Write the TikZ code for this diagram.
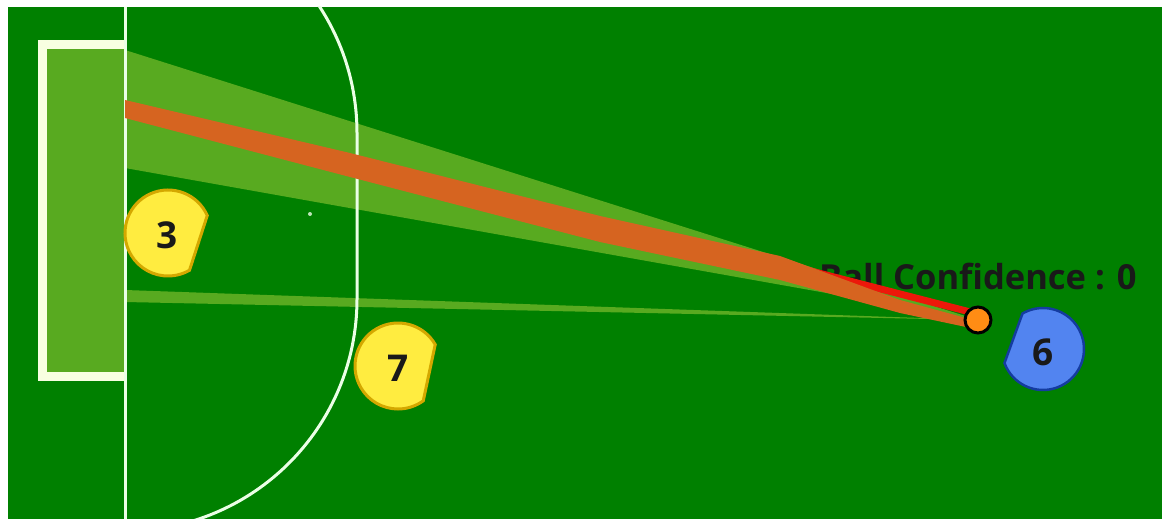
\documentclass[tikz,border=0pt]{standalone}
\usepackage{fontspec}
\setmainfont{Open Sans}

\definecolor{fieldgreen}{RGB}{0,128,0}
\definecolor{lgreen}{RGB}{88,170,32}
\definecolor{linewhite}{RGB}{235,255,230}
\definecolor{goalwhite}{RGB}{248,255,225}
\definecolor{shotorange}{RGB}{214,100,32}
\definecolor{shotred}{RGB}{236,24,10}
\definecolor{ballorange}{RGB}{255,140,20}
\definecolor{botyellow}{RGB}{255,236,64}
\definecolor{botgold}{RGB}{212,168,0}
\definecolor{botblue}{RGB}{82,132,240}
\definecolor{botnavy}{RGB}{20,60,160}

\begin{document}
\begin{tikzpicture}[
    x=1pt, y=1pt,
    wedge/.style={fill=lgreen},
    fieldline/.style={draw=linewhite, line width=3pt},
    yellowbot/.style={fill=botyellow, draw=botgold, line width=3pt},
    bluebot/.style={fill=botblue, draw=botnavy, line width=2.5pt},
    num/.style={font=\fontsize{37}{44}\selectfont\bfseries, text=black!90},
    label/.style={font=\fontsize{34.5}{40}\selectfont\bfseries, text=black!90, inner sep=0pt}
]
    \useasboundingbox (0,0) rectangle (1165,-519);
    \fill[white] (0,0) rectangle (1165,-519);

    % Field
    \fill[fieldgreen] (8,-7) rectangle (1162,-519);

    % Named points
    \coordinate (ball) at (978,-320);
    \coordinate (openTop) at (125,-50);
    \coordinate (openBot) at (125,-168);
    \coordinate (slitTop) at (125,-290);
    \coordinate (slitBot) at (125,-302);
    \coordinate (redStart) at (760,-258);

    \begin{scope}
    \clip (8,-7) rectangle (1162,-519);

    % Goal
    \fill[goalwhite] (38,-40) rectangle (125,-381);
    \fill[lgreen] (47,-49) rectangle (125,-372);

    % Open angles to the goal
    \fill[wedge] (ball) -- (openTop) -- (openBot) -- cycle;
    \fill[wedge] (ball) -- (slitTop) -- (slitBot) -- cycle;

    % Goal line and defense area
    \draw[fieldline] (125,-7) -- (125,-519);
    \draw[fieldline] (125,99) arc[start angle=90, end angle=0, radius=232pt]
        -- (357,-299) arc[start angle=0, end angle=-90, radius=232pt];
    \fill[linewhite!80!fieldgreen] (310,-214) circle[radius=2pt];

    % Robots
    \filldraw[yellowbot, shift={(168,-233)}, rotate=-18]
        (42:43pt) arc[start angle=42, end angle=318, radius=43pt] -- cycle;
    \node[num] (n3) at (167,-235) {3};
    \filldraw[yellowbot, shift={(398,-366)}, rotate=-12]
        (42:43pt) arc[start angle=42, end angle=318, radius=43pt] -- cycle;
    \node[num] (n7) at (398,-368) {7};
    \filldraw[bluebot, shift={(1043,-349)}, rotate=160]
        (40:41pt) arc[start angle=40, end angle=320, radius=41pt] -- cycle;
    \node[num] (n6) at (1043,-352) {6};

    % Ball confidence
    \node[label, anchor=base west] (conf) at (819,-289) {Ball Confidence : 0};

    % Shot line
    \draw[shotred, line width=7pt] (redStart) -- ([yshift=6pt]ball);
    \fill[shotorange] (125,-100) -- (350,-153) -- (600,-216) -- (780,-256)
        -- (900,-300) -- (966,-318) -- (966,-327) -- (900,-313) -- (780,-280)
        -- (600,-242) -- (350,-177) -- (125,-118) -- cycle;

    % Ball
    \draw[fill=ballorange, line width=3pt] (ball) circle[radius=13pt];
    \end{scope}
\end{tikzpicture}
\end{document}
